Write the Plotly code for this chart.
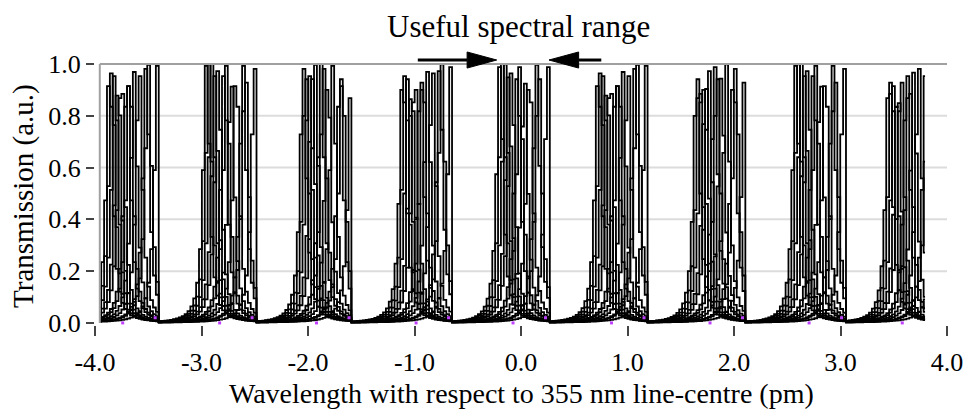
import numpy as np
import plotly.graph_objects as go

# Wavelength axis limits (pm) and the span actually covered by the scan
X_MIN, X_MAX = -4.0, 4.0
scan_start, scan_end = -3.955, 3.81
sample_step = 0.027  # spectral sampling interval of the scan (pm)

# Right-hand edge of each transmission group (pm); one per free spectral range
group_edges = [-3.40, -2.49, -1.58, -0.645, 0.265, 1.19, 2.115, 3.045, 3.92]

# Channel peak positions relative to the group edge (pm) and their peak heights
peak_offsets = [-0.463, -0.440, -0.412, -0.382, -0.352, -0.296, -0.274,
                -0.232, -0.185, -0.118, -0.098, -0.012]
peak_heights = [1.00, 1.00, 1.00, 0.96, 1.00, 1.00, 1.00,
                0.97, 1.00, 1.00, 1.00, 1.00]
hwhm = 0.036  # half width at half maximum of each channel (pm)

# Small markers of the reference channel near the baseline
ref_marker_offsets = [-0.34, -0.035]
ref_marker_levels = [0.0, 0.02]

y_ticks = [0.0, 0.2, 0.4, 0.6, 0.8, 1.0]
x_ticks = [-4.0, -3.0, -2.0, -1.0, 0.0, 1.0, 2.0, 3.0, 4.0]

edges = np.array(group_edges)
xs = np.arange(scan_start, scan_end + 1e-9, sample_step)
seg = np.clip(np.searchsorted(edges, xs, side="left"), 0, len(edges) - 1)

fig = go.Figure()

for off, h in zip(peak_offsets, peak_heights):
    centre = edges[seg] + off
    ys = h / (1.0 + ((xs - centre) / hwhm) ** 2)
    fig.add_trace(go.Scatter(x=xs, y=ys, mode="lines",
                             line=dict(color="black", width=1.8, shape="hvh"),
                             hoverinfo="skip", showlegend=False))

mx, my = [], []
for e in group_edges:
    for o, lv in zip(ref_marker_offsets, ref_marker_levels):
        if scan_start <= e + o <= scan_end:
            mx.append(e + o)
            my.append(lv)
fig.add_trace(go.Scatter(x=mx, y=my, mode="markers",
                         marker=dict(color="#c040ff", size=3, symbol="square"),
                         hoverinfo="skip", showlegend=False))

Y_LO, Y_HI = -0.008, 1.004


def px(x):
    return (x - X_MIN) / (X_MAX - X_MIN)


def py(y):
    return (y - Y_LO) / (Y_HI - Y_LO)


shapes = []
# horizontal grid lines
for v in y_ticks[1:-1]:
    shapes.append(dict(type="line", xref="paper", yref="paper",
                       x0=px(scan_start), x1=1.0, y0=py(v), y1=py(v),
                       line=dict(color="#dcdcdc", width=2), layer="below"))
# frame: left axis line and top line at full transmission
shapes.append(dict(type="line", xref="paper", yref="paper",
                   x0=px(scan_start), x1=px(scan_start), y0=py(0.0), y1=py(1.0),
                   line=dict(color="#a0a0a0", width=2), layer="above"))
shapes.append(dict(type="line", xref="paper", yref="paper",
                   x0=px(scan_start), x1=1.0, y0=py(1.0), y1=py(1.0),
                   line=dict(color="#a0a0a0", width=2), layer="above"))

# arrows marking the useful spectral range
arrow_y = 1.0155
head_half = 0.031
arrows = [(-0.969, -0.506, -0.228), (0.754, 0.541, 0.263)]  # tail, head base, tip
for tail, base, tip in arrows:
    shapes.append(dict(type="line", xref="paper", yref="paper",
                       x0=px(tail), x1=px(base), y0=py(arrow_y), y1=py(arrow_y),
                       line=dict(color="black", width=3)))
    path = (f"M {px(base)},{py(arrow_y - head_half)} L {px(tip)},{py(arrow_y)} "
            f"L {px(base)},{py(arrow_y + head_half)} Z")
    shapes.append(dict(type="path", xref="paper", yref="paper", path=path,
                       fillcolor="black", line=dict(color="black", width=1)))

serif = "Liberation Serif"
annotations = [
    dict(text="Useful spectral range", xref="paper", yref="paper",
         x=px(-0.02), y=py(1.145), xanchor="center", yanchor="middle",
         showarrow=False, font=dict(family=serif, size=31, color="black")),
    dict(text="Wavelength with respect to 355 nm line-centre (pm)",
         xref="paper", yref="paper", x=0.5, y=(325 - 393) / 262,
         xanchor="center", yanchor="middle", showarrow=False,
         font=dict(family=serif, size=28, color="black")),
    dict(text="Transmission (a.u.)", xref="paper", yref="paper",
         x=(22 - 95) / 863, y=(325 - 196) / 262, textangle=-90,
         xanchor="center", yanchor="middle", showarrow=False,
         font=dict(family=serif, size=29, color="black")),
]

fig.update_layout(
    width=975, height=410,
    margin=dict(l=95, r=17, t=63, b=85),
    paper_bgcolor="white", plot_bgcolor="white",
    shapes=shapes, annotations=annotations,
    xaxis=dict(range=[X_MIN, X_MAX], tickvals=x_ticks,
               ticktext=[f"{v:.1f}" for v in x_ticks],
               ticks="outside", ticklen=10, tickwidth=1.5, tickcolor="#444",
               showgrid=False, zeroline=False, showline=False,
               ticklabelstandoff=4,
               tickfont=dict(family=serif, size=26, color="black")),
    yaxis=dict(range=[Y_LO, Y_HI], tickvals=y_ticks,
               ticktext=[f"{v:.1f}" for v in y_ticks],
               ticks="outside", ticklen=8, tickwidth=1.5, tickcolor="#444",
               showgrid=False, zeroline=False, showline=False,
               tickfont=dict(family=serif, size=26, color="black")),
)

fig.write_html("out.html")
